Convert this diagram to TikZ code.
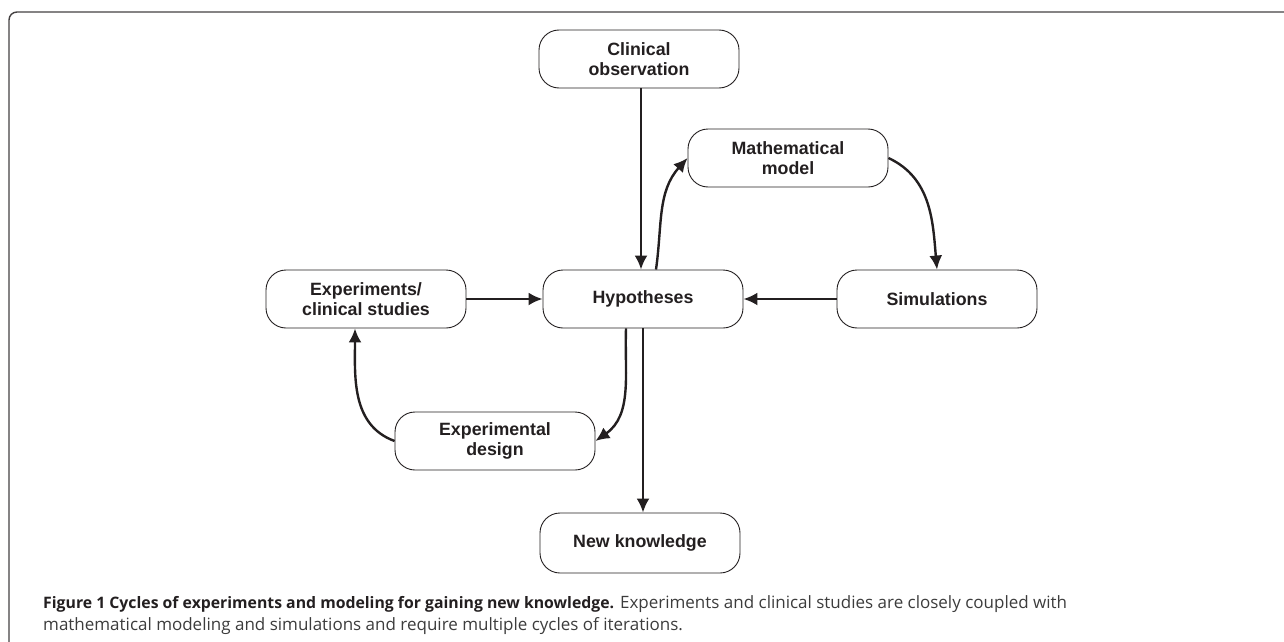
\documentclass[tikz,border=0pt]{standalone}
\usepackage{fontspec}
\setmainfont{Liberation Sans}
\newfontfamily\capfont{Open Sans}
\usetikzlibrary{arrows.meta}
\definecolor{ink}{HTML}{231F20}
\definecolor{captext}{HTML}{3C3C3C}
\begin{document}
\begin{tikzpicture}[x=1pt,y=-1pt,
    box/.style={draw=ink, line width=0.9pt, rounded corners=20pt, minimum width=200pt,
      minimum height=58pt, align=center, text=ink,
      font=\fontsize{17.8}{20}\selectfont\bfseries},
    link/.style={draw=ink, line width=2.4pt, -{Latex[length=14pt,width=13pt]}},
    captxt/.style={anchor=base west, inner sep=0pt, text=captext,
      font=\capfont\fontsize{17}{22}\selectfont}]
  \useasboundingbox (0,0) rectangle (1284,642);
  % frame round the figure
  \draw [ink!85, line width=1.4pt, rounded corners=8pt] (1284,12) -| (9,642);
  % boxes
  \node [box] (clin) at (639,59) {Clinical\\observation};
  \node [box] (math) at (788,158) {Mathematical\\model};
  \node [box] (hyp) at (643,299) {Hypotheses};
  \node [box] (exper) at (366,299) {Experiments/\\clinical studies};
  \node [box] (sim) at (937,299) {Simulations};
  \node [box] (design) at (495,441) {Experimental\\design};
  \node [box, minimum height=60pt] (know) at (640,543) {New knowledge};
  % straight links
  \draw [link] (clin.south -| 641,0) -- (hyp.north -| 641,0);
  \draw [link] (exper.east) -- (hyp.west);
  \draw [link] (sim.west) -- (hyp.east);
  \draw [link] (hyp.south -| 643,0) -- (know.north -| 643,0);
  % cycles
  \draw [link] (hyp.north -| 656,0) to[out=82, in=228] (math.west);
  \draw [link] (math.east) to[out=-25, in=95] (sim.north);
  \draw [link] (hyp.south -| 626,0) to[out=-92, in=35] (design.east);
  \draw [link] (design.west) to[out=160, in=-90] (exper.south -| 355,0);
  % caption
  \node [captxt] (cap1) at (43,608)
    {{\fontsize{15.8}{22}\selectfont\bfseries\color{ink}Figure 1 Cycles of experiments and modeling for gaining new knowledge.} Experiments and clinical studies are closely coupled with};
  \node [captxt] (cap2) at (43,630)
    {mathematical modeling and simulations and require multiple cycles of iterations.};
\end{tikzpicture}
\end{document}
